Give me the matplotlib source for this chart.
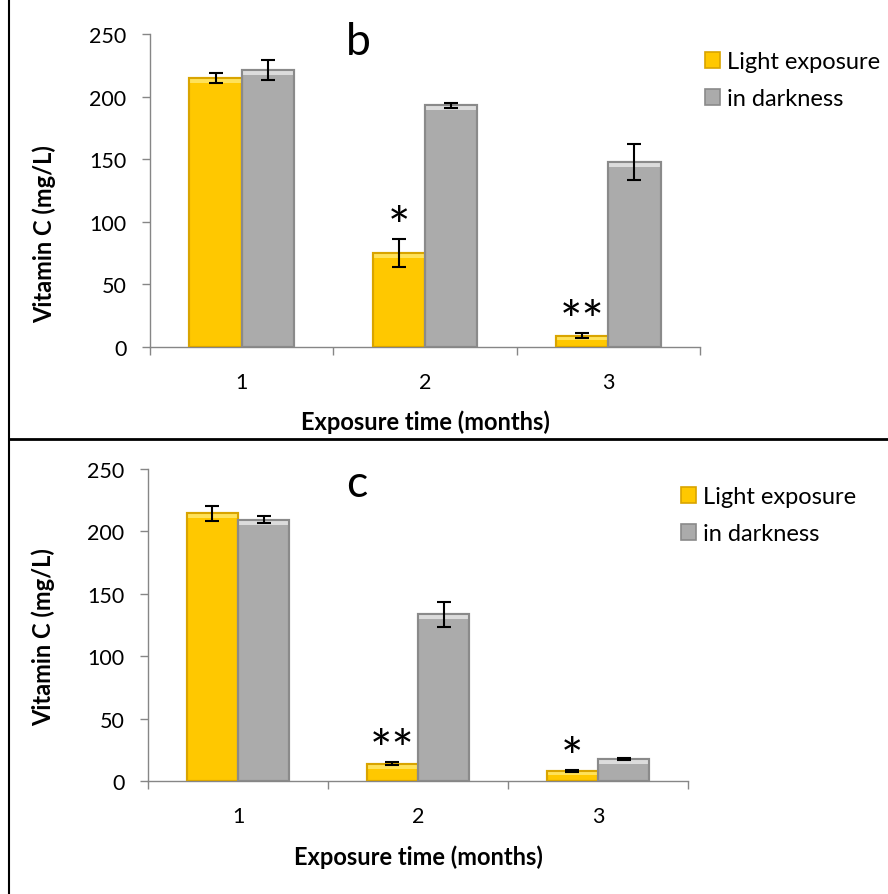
import matplotlib
matplotlib.use("Agg")
import matplotlib.pyplot as plt
from matplotlib.patches import Patch
from matplotlib.lines import Line2D
import numpy as np

plt.rcParams['font.family'] = ['Lato', 'DejaVu Sans']

months = [1, 2, 3]
month_labels = ["1", "2", "3"]
series_names = ["Light exposure", "in darkness"]

# panel b
b_light = [215, 75, 9]
b_light_err = [4, 11, 2]
b_dark = [221, 193, 148]
b_dark_err = [8, 2, 14.5]
b_stars = ["", "*", "**"]

# panel c
c_light = [214.5, 14, 8]
c_light_err = [6, 1, 1]
c_dark = [209.5, 133.5, 17.5]
c_dark_err = [2.7, 10, 1]
c_stars = ["", "**", "*"]

yticks = [0, 50, 100, 150, 200, 250]

YEL = "#FFC800"
YEL_EDGE = "#D9A400"
YEL_TOP = "#FFE25A"
GRY = "#ABABAB"
GRY_EDGE = "#8A8A8A"
GRY_TOP = "#DCDCDC"
AX_COL = "#868686"

W, H = 888, 895
fig = plt.figure(figsize=(W / 100, H / 100), dpi=100)


def ax_rect(left, right, top, bottom):
    return [left / W, 1 - bottom / H, (right - left) / W, (bottom - top) / H]


def draw_panel(ax, light, light_err, dark, dark_err, stars, letter, letter_pos,
               ylab_y, xlab_y):
    x = np.array(months, dtype=float)
    bw = 0.285
    xl = x - bw / 2
    xd = x + bw / 2
    for xs, vals, errs, fc, ec, tc in ((xl, light, light_err, YEL, YEL_EDGE, YEL_TOP),
                                        (xd, dark, dark_err, GRY, GRY_EDGE, GRY_TOP)):
        vals = np.array(vals, dtype=float)
        ax.bar(xs, vals, width=bw, color=fc, edgecolor=ec, linewidth=1.5, zorder=2)
        bev = np.minimum(4.0, vals * 0.4)
        ax.bar(xs, bev, bottom=vals - bev, width=bw * 0.96, color=tc,
               edgecolor='none', linewidth=0, zorder=3)
        ax.bar(xs, vals, width=bw, color='none', edgecolor=ec, linewidth=1.5, zorder=4)
        ax.errorbar(xs, vals, yerr=errs, fmt='none', ecolor='black',
                    elinewidth=1.5, capsize=5, capthick=1.5, zorder=5)
    for xi, v, e, s in zip(xl, light, light_err, stars):
        if s:
            ax.annotate(s, xy=(xi, v + e), xytext=(0, -10), textcoords='offset points',
                        ha='center', va='bottom', fontsize=38, color='black',
                        zorder=6)
    ax.set_xlim(0.5, 3.5)
    ax.set_ylim(0, 250)
    ax.set_yticks(yticks)
    ax.set_yticklabels([str(t) for t in yticks])
    ax.set_xticks([0.5, 1.5, 2.5, 3.5])
    ax.set_xticklabels([])
    ax.set_xticks(months, minor=True)
    ax.set_xticklabels(month_labels, minor=True)
    ax.tick_params(axis='x', which='major', length=6, color=AX_COL, width=1)
    ax.tick_params(axis='x', which='minor', length=0, pad=18, labelsize=15.5)
    ax.tick_params(axis='y', length=6, color=AX_COL, width=1, pad=11, labelsize=15.5)
    for sp in ['top', 'right']:
        ax.spines[sp].set_visible(False)
    for sp in ['left', 'bottom']:
        ax.spines[sp].set_color(AX_COL)
        ax.spines[sp].set_linewidth(1)
    ax.set_ylabel("Vitamin C (mg/L)", fontsize=17, fontweight='bold')
    ax.yaxis.label.set_va('center')
    ax.yaxis.set_label_coords(-0.193, ylab_y)
    ax.set_xlabel("Exposure time (months)", fontsize=17, fontweight='bold')
    ax.xaxis.label.set_va('center')
    ax.xaxis.set_label_coords(0.5, xlab_y)
    ax.text(letter_pos[0], letter_pos[1], letter, transform=ax.transAxes,
            fontsize=32, ha='center', va='center')


ax1 = fig.add_axes(ax_rect(150, 700, 35, 348))
draw_panel(ax1, b_light, b_light_err, b_dark, b_dark_err, b_stars, "b",
           (0.378, 0.975), 0.364, -0.236)
ax2 = fig.add_axes(ax_rect(148, 688, 470, 782))
draw_panel(ax2, c_light, c_light_err, c_dark, c_dark_err, c_stars, "c",
           (0.387, 0.955), 0.465, -0.240)

handles = [Patch(facecolor=YEL, edgecolor=YEL_EDGE, linewidth=1.2),
           Patch(facecolor=GRY, edgecolor=GRY_EDGE, linewidth=1.2)]
for ax, (lx, ly) in ((ax1, (705, 52)), (ax2, (681, 487))):
    fig.legend(handles, series_names, loc='upper left',
               bbox_to_anchor=(lx / W, 1 - ly / H), frameon=False, fontsize=17,
               handlelength=0.65, handleheight=0.65, handletextpad=0.3,
               labelspacing=0.68, borderpad=0, borderaxespad=0)

# frame lines of the figure
fig.add_artist(Line2D([9 / W, 9 / W], [0, 1], color='black', linewidth=1.5))
fig.add_artist(Line2D([9 / W, 1], [1 - 440 / H, 1 - 440 / H], color='black',
                      linewidth=2))

fig.savefig("out.png", dpi=100)
